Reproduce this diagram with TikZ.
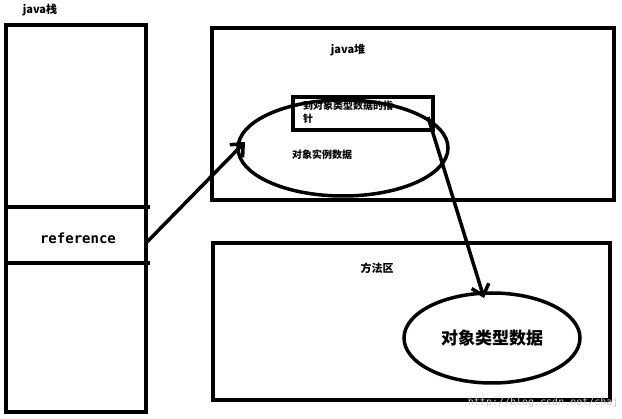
\documentclass[tikz,border=0pt]{standalone}
\usepackage{fontspec}
\setmainfont{DejaVu Sans}
\setmonofont{DejaVu Sans Mono}
\newfontfamily\cjk{Noto Sans CJK SC}
\usetikzlibrary{arrows.meta,shapes.geometric}
\tikzset{
	area/.style={draw, line width=3.5pt},
	blob/.style={draw, ellipse, line width=3.5pt, inner sep=0pt},
	ptr/.style={line width=3.5pt, -{Straight Barb[length=10pt,width=18pt,line width=3.5pt]}},
	lbl/.style={font=\cjk\bfseries\fontsize{11}{13}\selectfont},
}
\begin{document}
\begin{tikzpicture}[x=1pt,y=-1pt]
	\useasboundingbox (0,0) rectangle (622,419);
	% stack
	\node[lbl] (stacklbl) at (40,10) {java栈};
	\draw[area] (6,25) rectangle (146,412);
	\draw[area] (6,207) -- (150,207);
	\draw[area] (6,263) -- (150,263);
	\node[font=\ttfamily\bfseries\fontsize{14}{16}\selectfont] (ref) at (78,238) {reference};
	\coordinate (refend) at (146,243);

	% heap
	\draw[area] (212,28) rectangle (614,200);
	\node[lbl] (heaplbl) at (348,50) {java堆};
	\node[blob, minimum width=210pt, minimum height=96pt] (obj) at (343,148) {};
	\draw[area] (293,97) rectangle (433,130);
	\node[lbl, align=left, anchor=north west, inner sep=0pt,
		font=\cjk\bfseries\fontsize{10}{13}\selectfont] (ptrtxt) at (303,101)
		{到对象类型数据的指\\针};
	\node[lbl, font=\cjk\bfseries\fontsize{10}{12}\selectfont] (instlbl) at (322,155) {对象实例数据};
	\coordinate (ptrstart) at (428,117);

	% method area
	\draw[area] (213,243) rectangle (610,400);
	\node[lbl] (methlbl) at (377,268) {方法区};
	\node[blob, minimum width=176pt, minimum height=90pt,
		font=\cjk\bfseries\fontsize{17}{19}\selectfont] (cls) at (492,338) {对象类型数据};

	% pointers
	\draw[ptr] (refend) -- (245,142);
	\draw[ptr] (ptrstart) -- (484,298);

	\node[text=black!20, font=\ttfamily\fontsize{10}{12}\selectfont, anchor=east] (mark) at (622,403)
		{http://blog.csdn.net/chaj};
\end{tikzpicture}
\end{document}
